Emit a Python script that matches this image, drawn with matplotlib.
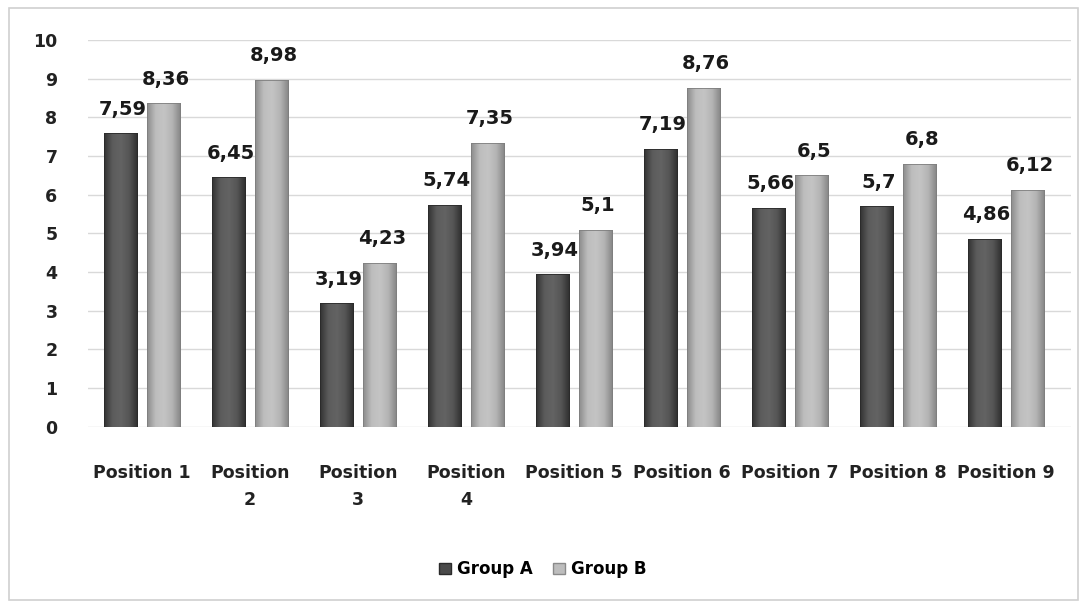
import numpy as np
import matplotlib.pyplot as plt
from matplotlib.patches import Rectangle
from matplotlib.colors import LinearSegmentedColormap

categories = ["Position 1", "Position\n2", "Position\n3", "Position\n4", "Position 5",
              "Position 6", "Position 7", "Position 8", "Position 9"]
group_a = [7.59, 6.45, 3.19, 5.74, 3.94, 7.19, 5.66, 5.70, 4.86]
group_b = [8.36, 8.98, 4.23, 7.35, 5.10, 8.76, 6.50, 6.80, 6.12]
labels_a = ["7,59", "6,45", "3,19", "5,74", "3,94", "7,19", "5,66", "5,7", "4,86"]
labels_b = ["8,36", "8,98", "4,23", "7,35", "5,1", "8,76", "6,5", "6,8", "6,12"]

fig = plt.figure(figsize=(10.86, 6.07), dpi=100)
fig.patches.append(Rectangle((0.008, 0.012), 0.985, 0.975, transform=fig.transFigure,
                             fill=False, edgecolor="#d0d0d0", linewidth=1.2))
ax = fig.add_axes([0.081, 0.297, 0.905, 0.637])

x = np.arange(len(categories))
w = 0.31
gap = 0.09

cmap_a = LinearSegmentedColormap.from_list("a", ["#333333", "#5c5c5c", "#636363", "#555555", "#2e2e2e"])
cmap_b = LinearSegmentedColormap.from_list("b", ["#8c8c8c", "#bdbdbd", "#c4c4c4", "#b4b4b4", "#858585"])
grad = np.linspace(0, 1, 64).reshape(1, -1)

def shaded_bars(xs, vals, cmap, edge):
    bars = ax.bar(xs, vals, w, color="none", edgecolor=edge, linewidth=0.6, zorder=3)
    for b in bars:
        x0, y0 = b.get_x(), b.get_y()
        im = ax.imshow(grad, cmap=cmap, aspect="auto", extent=(x0, x0 + w, y0, y0 + b.get_height()),
                       zorder=2.5)
        im.set_clip_path(b)
    return bars

xa = x - (w + gap) / 2
xb = x + (w + gap) / 2
bars_a = shaded_bars(xa, group_a, cmap_a, "#2a2a2a")
bars_b = shaded_bars(xb, group_b, cmap_b, "#7e7e7e")

for xi, v, t in zip(xa, group_a, labels_a):
    ax.text(xi + 0.02, v + 0.38, t, ha="center", va="bottom", fontsize=14,
            fontweight="bold", color="#1a1a1a", zorder=4)
for xi, v, t in zip(xb, group_b, labels_b):
    ax.text(xi + 0.02, v + 0.38, t, ha="center", va="bottom", fontsize=14,
            fontweight="bold", color="#1a1a1a", zorder=4)

ax.set_xlim(-0.5, 8.6)
ax.set_ylim(0, 10)
ax.set_yticks(range(0, 11))
ax.yaxis.grid(True, color="#d9d9d9", linewidth=1)
ax.set_axisbelow(True)
for s in ax.spines.values():
    s.set_visible(False)
ax.tick_params(axis="both", length=0, labelsize=12.5, colors="#222222")
ax.tick_params(axis="y", pad=22)
ax.tick_params(axis="x", pad=27)
ax.set_xticks(x)
ax.set_xticklabels(categories, fontweight="bold", linespacing=1.6)
for t in ax.get_yticklabels():
    t.set_fontweight("bold")

handles = [Rectangle((0, 0), 1, 1, facecolor="#4a4a4a", edgecolor="#2a2a2a"),
           Rectangle((0, 0), 1, 1, facecolor="#bdbdbd", edgecolor="#8a8a8a")]
fig.legend(handles, ["Group A", "Group B"], loc="center", bbox_to_anchor=(0.50, 0.062),
           ncol=2, frameon=False, prop={"weight": "bold", "size": 12},
           handlelength=0.7, handleheight=0.7, handletextpad=0.4, columnspacing=1.2)

fig.savefig("out.png", dpi=100)
